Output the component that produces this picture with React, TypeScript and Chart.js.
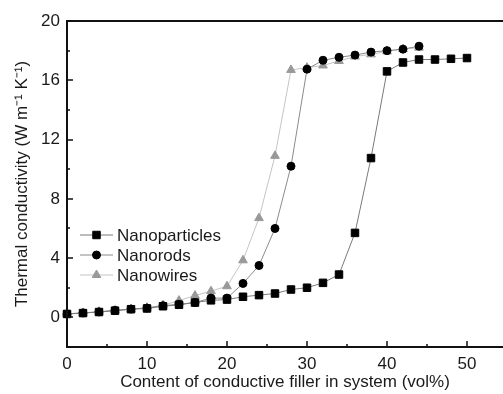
import React, { useEffect, useRef } from "react";
import { Chart, registerables } from "chart.js";

Chart.register(...registerables);

// ---- data ----
const xParticles = [0, 2, 4, 6, 8, 10, 12, 14, 16, 18, 20, 22, 24, 26, 28, 30, 32, 34, 36, 38, 40, 42, 44, 46, 48, 50];
const yParticles = [0.23, 0.29, 0.36, 0.45, 0.55, 0.6, 0.75, 0.85, 1.0, 1.15, 1.2, 1.39, 1.5, 1.61, 1.88, 2.0, 2.33, 2.89, 5.7, 10.75, 16.6, 17.2, 17.4, 17.4, 17.45, 17.5];

const xRods = [0, 2, 4, 6, 8, 10, 12, 14, 16, 18, 20, 22, 24, 26, 28, 30, 32, 34, 36, 38, 40, 42, 44];
const yRods = [0.23, 0.3, 0.37, 0.47, 0.56, 0.63, 0.79, 0.88, 1.0, 1.3, 1.3, 2.29, 3.5, 6.0, 10.2, 16.75, 17.35, 17.55, 17.7, 17.9, 18.0, 18.1, 18.3];

const xWires = [0, 2, 4, 6, 8, 10, 12, 14, 16, 18, 20, 22, 24, 26, 28, 30, 32, 34, 36, 38, 40, 42, 44];
const yWires = [0.25, 0.3, 0.38, 0.47, 0.56, 0.65, 0.82, 1.13, 1.47, 1.77, 2.1, 3.85, 6.7, 10.9, 16.7, 16.85, 17.0, 17.3, 17.6, 17.75, 17.95, 18.1, 18.2];

const seriesNames = ["Nanoparticles", "Nanorods", "Nanowires"];
const xTicks = [0, 10, 20, 30, 40, 50];
const yTicks = [0, 4, 8, 12, 16, 20];
const xTitle = "Content of conductive filler in system (vol%)";
const yTitle = "Thermal conductivity (W m\u207B\u00B9 K\u207B\u00B9)";

const FONT = '"Liberation Sans", Arial, sans-serif';
const TEXT = "#1a1a1a";

const toPts = (xs: number[], ys: number[]) => xs.map((x, i) => ({ x, y: ys[i] }));

function drawMarker(ctx: CanvasRenderingContext2D, style: string, x: number, y: number, r: number) {
  ctx.beginPath();
  if (style === "rect") {
    const s = Math.SQRT1_2 * r;
    ctx.rect(x - s, y - s, 2 * s, 2 * s);
  } else if (style === "triangle") {
    let rad = 0;
    ctx.moveTo(x + Math.sin(rad) * r, y - Math.cos(rad) * r);
    rad += (2 * Math.PI) / 3;
    ctx.lineTo(x + Math.sin(rad) * r, y - Math.cos(rad) * r);
    rad += (2 * Math.PI) / 3;
    ctx.lineTo(x + Math.sin(rad) * r, y - Math.cos(rad) * r);
    ctx.closePath();
  } else {
    ctx.arc(x, y, r, 0, Math.PI * 2);
  }
  ctx.fill();
  ctx.stroke();
}

const framePlugin = {
  id: "frame",
  afterDraw(chart: any) {
    const { ctx, chartArea, scales } = chart;
    const xs = scales.x;
    const ys = scales.y;
    ctx.save();
    ctx.strokeStyle = "#111";
    ctx.lineWidth = 2;
    ctx.beginPath();
    ctx.moveTo(chartArea.left, chartArea.top);
    ctx.lineTo(chartArea.right, chartArea.top);
    ctx.moveTo(chartArea.left, chartArea.top - 1);
    ctx.lineTo(chartArea.left, chartArea.bottom);
    ctx.moveTo(chartArea.left - 1, chartArea.bottom);
    ctx.lineTo(chartArea.right, chartArea.bottom);
    ctx.stroke();
    ctx.lineWidth = 1.5;
    ctx.beginPath();
    for (let v = 5; v <= 50; v += 5) {
      const px = Math.round(xs.getPixelForValue(v));
      const len = v % 10 === 0 ? 6 : 3;
      ctx.moveTo(px, chartArea.bottom);
      ctx.lineTo(px, chartArea.bottom - len);
    }
    for (let v = 0; v <= 20; v += 2) {
      const py = Math.round(ys.getPixelForValue(v));
      const len = v % 4 === 0 ? 6 : 3;
      ctx.moveTo(chartArea.left, py);
      ctx.lineTo(chartArea.left + len, py);
    }
    ctx.stroke();
    ctx.restore();
  },
};

const legendPlugin = {
  id: "customLegend",
  afterDatasetsDraw(chart: any) {
    const { ctx, chartArea } = chart;
    const x0 = chartArea.left + 13;
    const x1 = chartArea.left + 46;
    const tx = chartArea.left + 50;
    const y0 = chartArea.top + 214;
    ctx.save();
    chart.data.datasets.forEach((ds: any, i: number) => {
      const y = y0 + i * 20;
      ctx.strokeStyle = ds.borderColor;
      ctx.lineWidth = 1;
      ctx.beginPath();
      ctx.moveTo(x0, y);
      ctx.lineTo(x1, y);
      ctx.stroke();
      ctx.fillStyle = ds.pointBackgroundColor;
      ctx.strokeStyle = ds.pointBorderColor;
      ctx.lineWidth = 1;
      drawMarker(ctx, ds.pointStyle, (x0 + x1) / 2, y, ds.pointRadius);
      ctx.fillStyle = TEXT;
      ctx.font = `17px ${FONT}`;
      ctx.textBaseline = "middle";
      ctx.textAlign = "left";
      ctx.fillText(seriesNames[i], tx, y + 1);
    });
    ctx.restore();
  },
};

export default function App() {
  const ref = useRef<HTMLCanvasElement>(null);
  useEffect(() => {
    if (!ref.current) return;
    const chart = new Chart(ref.current, {
      type: "scatter",
      data: {
        datasets: [
          {
            label: seriesNames[0],
            data: toPts(xParticles, yParticles),
            showLine: true,
            borderColor: "#7a7a7a",
            borderWidth: 1,
            pointStyle: "rect",
            pointRadius: 5.3,
            pointBackgroundColor: "#000",
            pointBorderColor: "#000",
            pointBorderWidth: 1,
          },
          {
            label: seriesNames[1],
            data: toPts(xRods, yRods),
            showLine: true,
            borderColor: "#8a8a8a",
            borderWidth: 1,
            pointStyle: "circle",
            pointRadius: 4,
            pointBackgroundColor: "#000",
            pointBorderColor: "#000",
            pointBorderWidth: 1,
          },
          {
            label: seriesNames[2],
            data: toPts(xWires, yWires),
            showLine: true,
            borderColor: "#c4c4c4",
            borderWidth: 1,
            pointStyle: "triangle",
            pointRadius: 5,
            pointBackgroundColor: "#999",
            pointBorderColor: "#999",
            pointBorderWidth: 1,
          },
        ],
      },
      options: {
        animation: false,
        responsive: false,
        clip: false as any,
        layout: { autoPadding: false, padding: { top: 21, left: 0, right: 0, bottom: 0 } },
        plugins: { legend: { display: false }, tooltip: { enabled: false } },
        scales: {
          x: {
            type: "linear",
            min: 0,
            max: 54.5,
            afterBuildTicks: (s: any) => {
              s.ticks = xTicks.map((v) => ({ value: v }));
            },
            afterFit: (s: any) => {
              s.height = 47;
            },
            grid: { display: false, drawTicks: false },
            border: { display: false },
            ticks: { font: { size: 17, family: FONT }, color: TEXT, padding: 7, maxRotation: 0 },
            title: {
              display: true,
              text: xTitle,
              font: { size: 17, family: FONT },
              color: TEXT,
              padding: { top: 0, bottom: 1 },
            },
          },
          y: {
            type: "linear",
            min: -2,
            max: 20,
            afterBuildTicks: (s: any) => {
              s.ticks = yTicks.map((v) => ({ value: v }));
            },
            afterFit: (s: any) => {
              s.width = 67;
            },
            grid: { display: false, drawTicks: false },
            border: { display: false },
            ticks: { font: { size: 17, family: FONT }, color: TEXT, padding: 7 },
            title: {
              display: true,
              text: yTitle,
              font: { size: 17, family: FONT },
              color: TEXT,
              padding: { top: 12, bottom: 0 },
            },
          },
        },
      },
      plugins: [framePlugin, legendPlugin],
    });
    return () => chart.destroy();
  }, []);
  return (
    <div style={{ position: "absolute", left: 0, top: 0, width: 503, height: 394, background: "#fff" }}>
      <canvas ref={ref} width={503} height={394} style={{ width: 503, height: 394, display: "block" }} />
    </div>
  );
}
